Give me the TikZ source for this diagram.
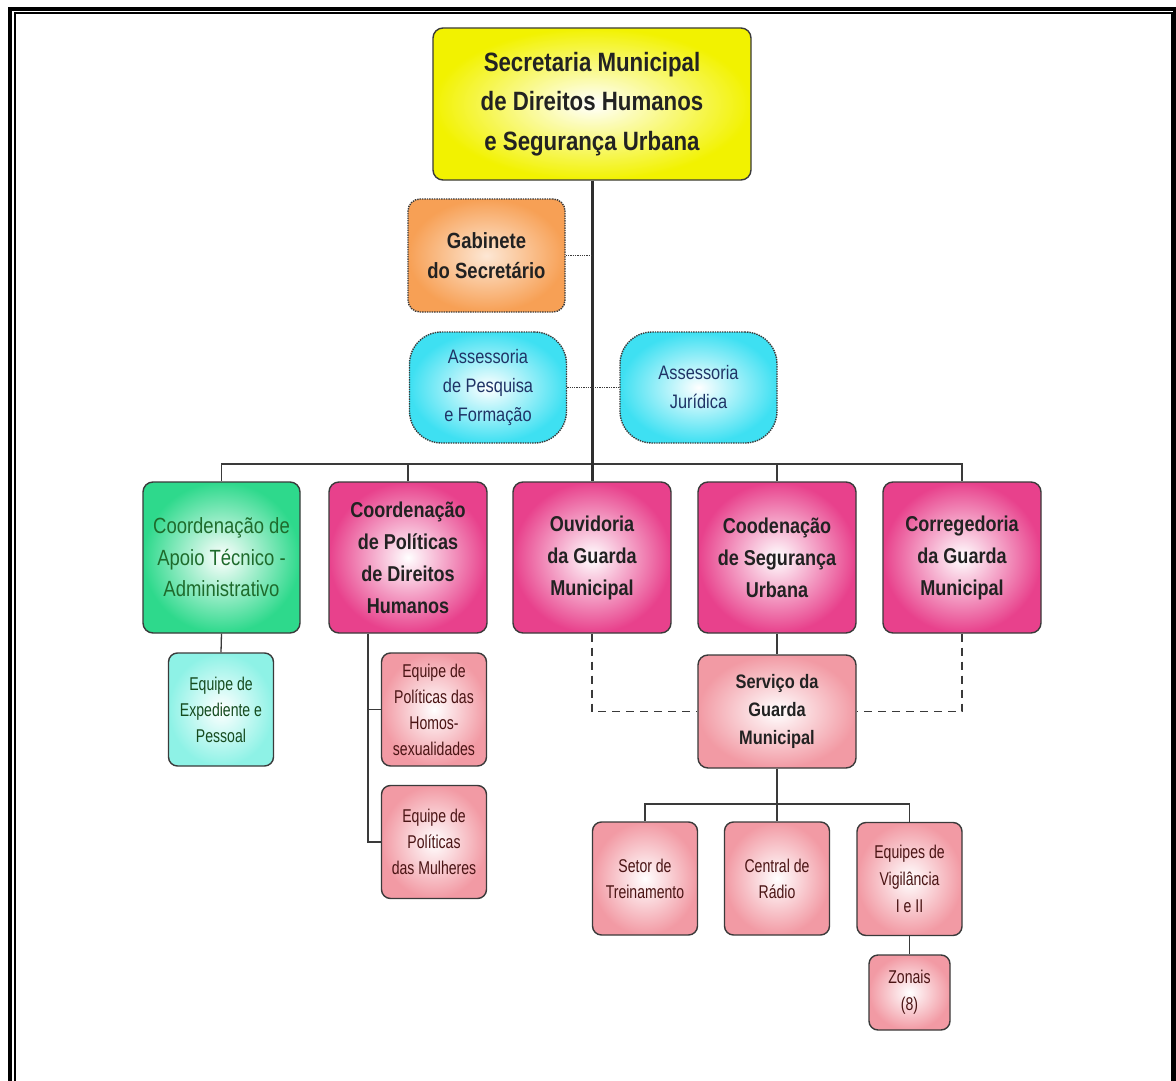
\documentclass[tikz,border=0pt]{standalone}
\usepackage{fontspec}
\setmainfont[FakeStretch=0.84]{Liberation Sans}
\newfontfamily\narrowfont[FakeStretch=0.76]{Liberation Sans}
\definecolor{boxline}{HTML}{3A3A3A}
\definecolor{cyellow}{HTML}{F2F200}
\definecolor{corange}{HTML}{F7A055}
\definecolor{ccyan}{HTML}{3EE0F2}
\definecolor{cgreen}{HTML}{2ED98C}
\definecolor{cpink}{HTML}{E8418C}
\definecolor{csalmon}{HTML}{F29AA4}
\definecolor{caqua}{HTML}{8EF2E6}
\definecolor{tblue}{HTML}{1F3466}
\definecolor{tgreen}{HTML}{1E6B2C}
\definecolor{tred}{HTML}{4A1414}
\definecolor{tdark}{HTML}{222222}
\tikzset{
  box/.style={draw=boxline, line width=1.4pt, rounded corners=10pt, align=center,
    inner sep=0pt, text=tdark},
  topbox/.style={box, inner color=white, outer color=cyellow, minimum width=318pt, minimum height=152pt,
    font=\fontsize{26.5}{39.5}\selectfont\bfseries},
  gabbox/.style={box, densely dotted, rounded corners=12pt, inner color=corange!25, outer color=corange,
    minimum width=157pt, minimum height=113pt, font=\fontsize{22}{30}\selectfont\bfseries},
  assbox/.style={box, densely dotted, rounded corners=32pt, inner color=white, outer color=ccyan,
    minimum width=157pt, minimum height=111pt, text=tblue, font=\fontsize{19.5}{29}\selectfont},
  greenbox/.style={box, inner color=white, outer color=cgreen, minimum width=157pt, minimum height=151pt,
    text=tgreen, font=\fontsize{22}{31.5}\selectfont},
  pinkbox/.style={box, inner color=white, outer color=cpink, minimum width=158pt, minimum height=151pt,
    font=\fontsize{21.5}{32}\selectfont\bfseries},
  servbox/.style={box, inner color=white, outer color=csalmon, minimum width=158pt, minimum height=113pt,
    font=\fontsize{19.5}{28}\selectfont\bfseries},
  smallbox/.style={box, rounded corners=9pt, inner color=white, outer color=csalmon,
    minimum width=105pt, minimum height=113pt, text=tred, font=\narrowfont\fontsize{18.5}{26}\selectfont},
  aquabox/.style={smallbox, outer color=caqua, text=tgreen!70!black},
  link/.style={draw=boxline, line width=1.3pt},
  mainlink/.style={draw=boxline!80!black, line width=3pt},
  dotlink/.style={draw=boxline, line width=1.3pt, densely dotted},
  dashlink/.style={draw=boxline, line width=1.3pt, dash pattern=on 8pt off 6pt},
}
\begin{document}
\begin{tikzpicture}[x=1pt,y=-1pt]
\useasboundingbox (0,0) rectangle (1176,1081);
\fill[white] (0,0) rectangle (1176,1081);
% frame
\draw[line width=4pt] (10,1081) -- (10,9) -- (1175,9) -- (1175,1081);
\draw[line width=2pt] (15,1081) -- (15,13) -- (1171.5,13) -- (1171.5,1081);

% nodes
\node[topbox] (sec) at (592,104) {Secretaria Municipal\\de Direitos Humanos\\e Segurança Urbana};
\node[gabbox] (gab) at (486.5,255.5) {Gabinete\\do Secretário};
\node[assbox] (apf) at (488,387.5) {Assessoria\\de Pesquisa\\e Formação};
\node[assbox] (aj) at (698.5,387.5) {Assessoria\\Jurídica};

\node[greenbox] (c1) at (221.5,557.5) {Coordenação de\\Apoio Técnico -\\Administrativo};
\node[pinkbox] (c2) at (408,557.5) {Coordenação\\de Políticas\\de Direitos\\Humanos};
\node[pinkbox] (c3) at (592,557.5) {Ouvidoria\\da Guarda\\Municipal};
\node[pinkbox] (c4) at (777,557.5) {Coodenação\\de Segurança\\Urbana};
\node[pinkbox] (c5) at (962,557.5) {Corregedoria\\da Guarda\\Municipal};

\node[aquabox] (eexp) at (221,709.5) {Equipe de\\Expediente e\\Pessoal};
\node[smallbox] (ehom) at (434,709.5) {Equipe de\\Políticas das\\Homos-\\sexualidades};
\node[smallbox] (emul) at (434,842) {Equipe de\\Políticas\\das Mulheres};

\node[servbox] (serv) at (777,711.5) {Serviço da\\Guarda\\Municipal};

\node[smallbox] (setor) at (645,878.5) {Setor de\\Treinamento};
\node[smallbox] (central) at (777,878.5) {Central de\\Rádio};
\node[smallbox, font=\narrowfont\fontsize{18.5}{27}\selectfont] (vig) at (909.5,879) {Equipes de\\Vigilância\\I e II};
\node[smallbox, minimum width=81pt, minimum height=75pt, font=\narrowfont\fontsize{18.5}{27}\selectfont] (zon) at (909.5,992.5) {Zonais\\(8)};

% connectors
\coordinate (bus) at (592,464);
\coordinate (bus2) at (777,804);
\path[link] (c1.north) -- (c1.north |- bus) -- (c5.north |- bus) -- (c5.north);
\path[link] (c2.north) -- (c2.north |- bus);
\path[link] (c4.north) -- (c4.north |- bus);
\path[mainlink] (sec.south) -- (c3.north);
\path[dotlink] (gab.east) -- (gab.east -| sec.south);
\path[dotlink] (apf.east) -- (aj.west);
\path[link] (c1.south) -- (eexp.north);
\path[link] ([xshift=-40pt]c2.south) |- (emul.west);
\path[link] ([xshift=-40pt]c2.south) |- (ehom.west);
\path[link] (c4.south) -- (serv.north);
\path[dashlink] (c3.south) |- (serv.west);
\path[dashlink] (c5.south) |- (serv.east);
\path[link] (serv.south) -- (central.north);
\path[link] (setor.north) -- (setor.north |- bus2) -- (vig.north |- bus2) -- (vig.north);
\path[link] (vig.south) -- (zon.north);
\end{tikzpicture}
\end{document}
